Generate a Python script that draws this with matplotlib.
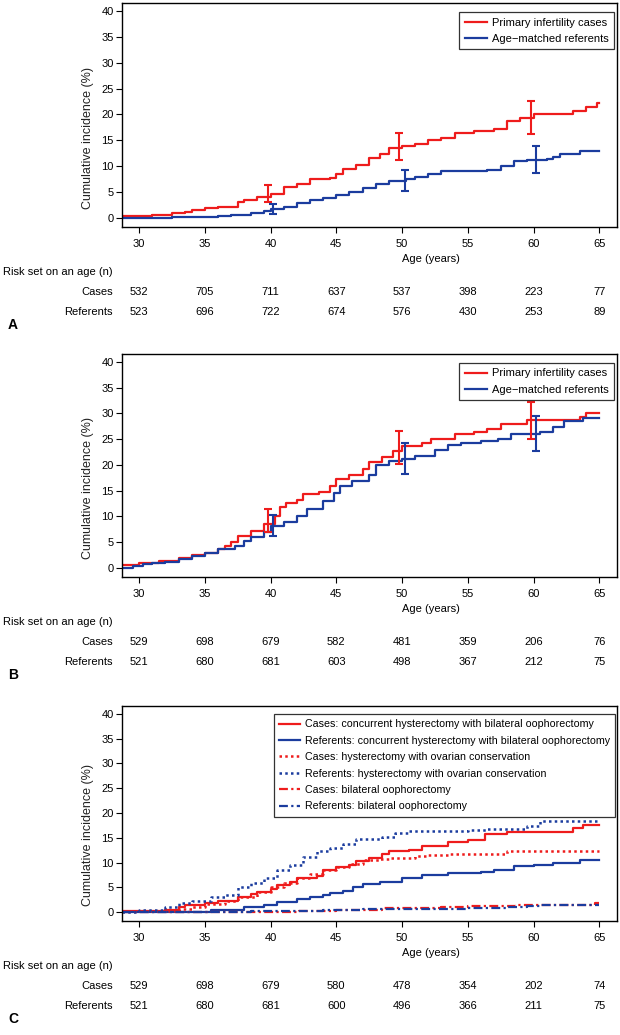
import matplotlib.pyplot as plt
import numpy as np

plt.rcParams['font.family'] = ['Liberation Sans Narrow', 'Liberation Sans', 'DejaVu Sans']

RED = '#ee1c1c'
BLUE = '#1b3c9e'

ages = [30, 35, 40, 45, 50, 55, 60, 65]
yticks = [0, 5, 10, 15, 20, 25, 30, 35, 40]

# ---- panel A: step curves (age, cumulative incidence %)
a_case_x = [28.7, 31, 32.5, 33.5, 34, 35, 36, 37.5, 38, 39, 40, 41, 42, 43, 44.5, 45, 45.5, 46.5,
            47.5, 48.3, 49, 50, 51, 52, 53, 54, 55.5, 57, 58, 59, 60, 63, 64, 64.8, 65]
a_case_y = [0.4, 0.6, 0.9, 1.2, 1.6, 1.9, 2.2, 3.0, 3.5, 4.0, 4.7, 6.0, 6.5, 7.5, 7.7, 8.5, 9.5, 10.2,
            11.5, 12.3, 13.5, 14.0, 14.3, 15.0, 15.5, 16.5, 16.8, 17.2, 18.7, 19.3, 20.0, 20.7, 21.4, 22.2, 22.2]
a_ref_x = [28.7, 32.5, 36, 37, 38.5, 39.5, 40, 41, 42, 43, 44, 45, 46, 47, 48, 49, 50.3, 51, 52, 53,
           56.5, 57.5, 58.5, 59.5, 61, 61.5, 62, 63.5, 65]
a_ref_y = [0.0, 0.1, 0.4, 0.6, 0.9, 1.3, 1.7, 2.1, 2.8, 3.5, 3.9, 4.5, 5.0, 5.8, 6.5, 7.1, 7.5, 8.0, 8.5, 9.0,
           9.3, 10.0, 11.0, 11.2, 11.3, 11.8, 12.3, 12.9, 12.9]
a_case_ci_x = [39.8, 49.8, 59.8]
a_case_ci_lo = [3.0, 11.2, 16.2]
a_case_ci_hi = [6.4, 16.4, 22.7]
a_ref_ci_x = [40.2, 50.2, 60.2]
a_ref_ci_lo = [0.8, 5.3, 8.6]
a_ref_ci_hi = [2.7, 9.2, 13.9]
a_risk_cases = [532, 705, 711, 637, 537, 398, 223, 77]
a_risk_refs = [523, 696, 722, 674, 576, 430, 253, 89]

# ---- panel B
b_case_x = [28.7, 30, 31.5, 33, 34, 35, 36, 36.5, 37, 37.5, 38.5, 39.5, 40.3, 40.7, 41.2, 42, 42.5,
            43.7, 44.5, 45, 46, 47, 47.5, 48.5, 49.3, 50, 51.5, 52.2, 54, 55.5, 56.5, 57.5, 59.5,
            63.5, 64, 65]
b_case_y = [0.6, 1.0, 1.4, 2.0, 2.6, 3.0, 3.6, 4.2, 5.0, 6.2, 7.2, 8.5, 10.0, 11.8, 12.6, 13.2, 14.4,
            14.8, 16.0, 17.3, 18.0, 19.2, 20.5, 21.5, 22.8, 23.6, 24.2, 25.0, 26.0, 26.5, 27.0, 28.0, 28.7,
            29.4, 30.1, 30.1]
b_ref_x = [28.7, 29.5, 30.3, 31, 32, 33, 34, 35, 36, 37.3, 38, 38.5, 39.5, 40, 41, 42, 42.8, 44,
           44.8, 45.3, 46.2, 47.5, 48, 49, 50, 51, 52.5, 53.5, 54.5, 56, 57.3, 58.3, 60.5, 61.5,
           62.3, 63.8, 65]
b_ref_y = [0.0, 0.3, 0.7, 1.0, 1.2, 1.7, 2.3, 3.0, 3.7, 4.3, 5.2, 6.0, 7.0, 8.2, 9.0, 10.0, 11.5, 13.0,
           14.5, 16.0, 16.8, 18.0, 20.0, 20.7, 21.2, 21.8, 23.0, 23.8, 24.2, 24.6, 25.1, 26.0, 26.5, 27.3,
           28.5, 29.1, 29.1]
b_case_ci_x = [39.8, 49.8, 59.8]
b_case_ci_lo = [7.0, 20.2, 25.0]
b_case_ci_hi = [11.4, 26.6, 32.2]
b_ref_ci_x = [40.2, 50.2, 60.2]
b_ref_ci_lo = [6.2, 18.2, 22.7]
b_ref_ci_hi = [10.3, 24.3, 29.6]
b_risk_cases = [529, 698, 679, 582, 481, 359, 206, 76]
b_risk_refs = [521, 680, 681, 603, 498, 367, 212, 75]

# ---- panel C
c_case_hbo_x = [28.7, 32, 33, 33.5, 35, 36, 37, 37.5, 38.5, 39, 40, 40.5, 41.5, 42, 43.5, 44, 45, 46,
                46.5, 47.5, 48.5, 49, 50.5, 51.5, 53.5, 55, 56.3, 58, 63, 63.8, 65]
c_case_hbo_y = [0.3, 0.5, 1.0, 1.5, 1.8, 2.2, 2.3, 3.0, 3.6, 4.1, 4.6, 5.6, 6.2, 7.0, 7.3, 8.5, 9.1, 9.6,
                10.3, 10.9, 11.8, 12.3, 12.6, 13.3, 14.1, 14.6, 15.8, 16.2, 16.9, 17.6, 17.6]
c_ref_hbo_x = [28.7, 33, 35.5, 38, 39.5, 40.5, 42, 43, 44, 44.5, 45.5, 46.3, 47, 48.3, 50, 51.5, 53.5,
               56, 57, 58.5, 60, 61.5, 63.5, 65]
c_ref_hbo_y = [0.0, 0.1, 0.5, 1.0, 1.5, 2.0, 2.6, 3.0, 3.5, 3.8, 4.2, 5.0, 5.7, 6.2, 6.9, 7.5, 7.9,
               8.1, 8.6, 9.3, 9.5, 10.0, 10.6, 10.6]
c_case_hoc_x = [28.7, 33, 34, 35, 36.5, 37.5, 39, 40, 41, 42, 43, 44, 45, 46, 47, 48.3, 49, 51, 52,
                53.5, 58, 65]
c_case_hoc_y = [0.2, 0.6, 1.0, 1.6, 2.2, 3.0, 4.0, 5.0, 6.0, 7.0, 7.7, 8.5, 9.2, 9.8, 10.5, 10.8, 11.0,
                11.3, 11.6, 11.7, 12.4, 12.4]
c_ref_hoc_x = [28.7, 30, 32, 33, 34, 35.5, 36.5, 37.5, 38.5, 39.5, 40.5, 41.5, 42.5, 43.5, 44.5, 45.5,
               46.5, 48.5, 49.5, 50.5, 55, 56.5, 59.5, 60.5, 65]
c_ref_hoc_y = [0.0, 0.4, 1.0, 1.8, 2.2, 3.0, 3.5, 5.0, 6.0, 7.0, 8.5, 9.5, 11.2, 12.3, 13.0, 13.7,
               14.7, 15.2, 16.0, 16.4, 16.5, 16.7, 17.4, 18.4, 18.4]
c_case_bo_x = [28.7, 42.2, 45, 48.5, 51, 53, 55, 58.7, 64.7, 65]
c_case_bo_y = [0.0, 0.2, 0.4, 0.8, 0.9, 1.1, 1.3, 1.5, 1.8, 1.8]
c_ref_bo_x = [28.7, 33.5, 38.5, 44, 47, 55, 58, 59.5, 60.5, 65]
c_ref_bo_y = [0.0, 0.1, 0.2, 0.4, 0.6, 0.8, 1.0, 1.3, 1.5, 1.5]
c_risk_cases = [529, 698, 679, 580, 478, 354, 202, 74]
c_risk_refs = [521, 680, 681, 600, 496, 366, 211, 75]

c_labels = ['Cases: concurrent hysterectomy with bilateral oophorectomy',
            'Referents: concurrent hysterectomy with bilateral oophorectomy',
            'Cases: hysterectomy with ovarian conservation',
            'Referents: hysterectomy with ovarian conservation',
            'Cases: bilateral oophorectomy',
            'Referents: bilateral oophorectomy']

DOT = (0, (1, 1.3))
DASHDOT = (0, (4, 1.5, 1, 1.5))
FS = 8
PX = 0.72  # points per pixel


def setup(ax, risk_cases, risk_refs, letter):
    ax.set_xlim(28.7, 66.35)
    ax.set_ylim(-1.75, 41.55)
    ax.set_xticks(ages)
    ax.set_yticks(yticks)
    ax.tick_params(labelsize=FS, length=4, width=0.8)
    ax.tick_params(axis='x', pad=4.5)
    ax.tick_params(axis='y', pad=2)
    for s in ax.spines.values():
        s.set_linewidth(1.0)
    ax.text(-0.069, 15.5, 'Cumulative incidence (%)', transform=ax.get_yaxis_transform(),
            rotation=90, ha='center', va='center', fontsize=9, color='#222222')
    ax.annotate('Age (years)', xy=(52.2, 0), xycoords=('data', 'axes fraction'),
                xytext=(0, -32 * PX), textcoords='offset points', ha='center', va='center', fontsize=FS)
    trans = ('figure fraction', 'axes fraction')
    ax.annotate('Risk set on an age (n)', xy=(113 / 620, 0), xycoords=trans,
                xytext=(0, -45 * PX), textcoords='offset points', ha='right', va='center', fontsize=FS)
    ax.annotate('Cases', xy=(113 / 620, 0), xycoords=trans,
                xytext=(0, -65 * PX), textcoords='offset points', ha='right', va='center', fontsize=FS)
    ax.annotate('Referents', xy=(113 / 620, 0), xycoords=trans,
                xytext=(0, -85 * PX), textcoords='offset points', ha='right', va='center', fontsize=FS)
    for a, n1, n2 in zip(ages, risk_cases, risk_refs):
        ax.annotate(str(n1), xy=(a, 0), xycoords=('data', 'axes fraction'),
                    xytext=(0, -65 * PX), textcoords='offset points', ha='center', va='center', fontsize=FS)
        ax.annotate(str(n2), xy=(a, 0), xycoords=('data', 'axes fraction'),
                    xytext=(0, -85 * PX), textcoords='offset points', ha='center', va='center', fontsize=FS)
    ax.annotate(letter, xy=(8 / 620, 0), xycoords=trans,
                xytext=(0, -98 * PX), textcoords='offset points', ha='left', va='center',
                fontsize=10, fontweight='bold')


def ci(ax, x, lo, hi, color):
    mid = [(l + h) / 2 for l, h in zip(lo, hi)]
    err = [[m - l for m, l in zip(mid, lo)], [h - m for h, m in zip(hi, mid)]]
    ax.errorbar(x, mid, yerr=err, fmt='none', ecolor=color, elinewidth=1.5, capsize=2.8, capthick=1.5)


fig = plt.figure(figsize=(6.2, 10.35), dpi=100)
left, width = 122 / 620, 495 / 620
axA = fig.add_axes([left, 1 - 227 / 1035, width, 224 / 1035])
axB = fig.add_axes([left, 1 - 577 / 1035, width, 223 / 1035])
axC = fig.add_axes([left, 1 - 921 / 1035, width, 215 / 1035])

# panel A
axA.step(a_case_x, a_case_y, where='post', color=RED, lw=1.6, label='Primary infertility cases')
axA.step(a_ref_x, a_ref_y, where='post', color=BLUE, lw=1.6, label='Age\u2212matched referents')
ci(axA, a_case_ci_x, a_case_ci_lo, a_case_ci_hi, RED)
ci(axA, a_ref_ci_x, a_ref_ci_lo, a_ref_ci_hi, BLUE)
setup(axA, a_risk_cases, a_risk_refs, 'A')

# panel B
axB.step(b_case_x, b_case_y, where='post', color=RED, lw=1.6, label='Primary infertility cases')
axB.step(b_ref_x, b_ref_y, where='post', color=BLUE, lw=1.6, label='Age\u2212matched referents')
ci(axB, b_case_ci_x, b_case_ci_lo, b_case_ci_hi, RED)
ci(axB, b_ref_ci_x, b_ref_ci_lo, b_ref_ci_hi, BLUE)
setup(axB, b_risk_cases, b_risk_refs, 'B')

# panel C
axC.step(c_case_hbo_x, c_case_hbo_y, where='post', color=RED, lw=1.6, label=c_labels[0])
axC.step(c_ref_hbo_x, c_ref_hbo_y, where='post', color=BLUE, lw=1.6, label=c_labels[1])
axC.step(c_case_hoc_x, c_case_hoc_y, where='post', color=RED, lw=1.8, ls=DOT, label=c_labels[2])
axC.step(c_ref_hoc_x, c_ref_hoc_y, where='post', color=BLUE, lw=1.8, ls=DOT, label=c_labels[3])
axC.step(c_case_bo_x, c_case_bo_y, where='post', color=RED, lw=1.6, ls=DASHDOT, label=c_labels[4])
axC.step(c_ref_bo_x, c_ref_bo_y, where='post', color=BLUE, lw=1.6, ls=DASHDOT, label=c_labels[5])
setup(axC, c_risk_cases, c_risk_refs, 'C')

for ax in (axA, axB):
    leg = ax.legend(loc='upper right', bbox_to_anchor=(0.994, 0.96), borderaxespad=0,
                    fontsize=FS, frameon=True, fancybox=False, framealpha=1,
                    edgecolor='#333333', handlelength=2.0, handletextpad=0.45, borderpad=0.5,
                    labelspacing=0.55)
    leg.get_frame().set_linewidth(0.9)
leg = axC.legend(loc='upper right', bbox_to_anchor=(0.996, 0.963), borderaxespad=0,
                 fontsize=7.7, frameon=True, fancybox=False, framealpha=1,
                 edgecolor='#333333', handlelength=1.9, handletextpad=0.45, borderpad=0.5,
                 labelspacing=0.6)
leg.get_frame().set_linewidth(0.9)

fig.savefig('out.png', dpi=100)
